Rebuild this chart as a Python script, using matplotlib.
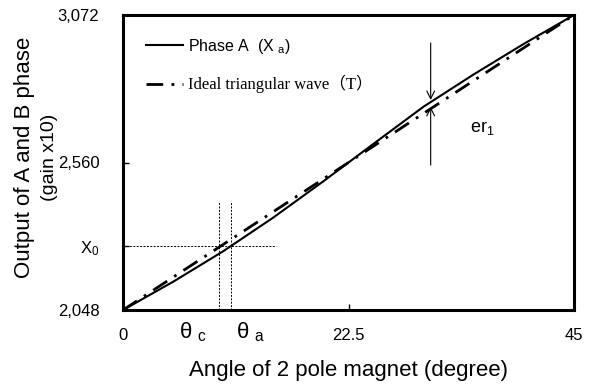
import matplotlib
matplotlib.use("Agg")
import matplotlib.pyplot as plt

plt.rcParams['font.family'] = ['Liberation Sans', 'Noto Sans CJK JP']
plt.rcParams['mathtext.default'] = 'regular'
plt.rcParams['mathtext.fontset'] = 'custom'
plt.rcParams['mathtext.rm'] = 'Liberation Sans'

# angle of 2 pole magnet (degree) and output (gain x10)
angle_deg = [0, 5, 10, 15, 20, 22.5, 25, 30, 35, 40, 45]
phase_a = [2048, 2146, 2252, 2369, 2495, 2560, 2625, 2754, 2866, 2972, 3072]
ideal_angle = [0, 45]
ideal_tri = [2048, 3072]

y_ticks = [2048, 2560, 3072]
y_tick_labels = ['2,048', '2,560', '3,072']
x_ticks = [0, 22.5, 45]
x_tick_labels = ['0', '22.5', '45']

x0_level = 2270
theta_c = 9.6
theta_a = 10.8
er1_angle = 30.7

fig = plt.figure(figsize=(5.93, 3.87), dpi=100)
ax = fig.add_axes([123 / 593, 1 - 310 / 387, 451 / 593, 295 / 387])

ax.plot(angle_deg, phase_a, color='black', linewidth=1.5, label='Phase A  (X $_{a}$)')
ax.plot(ideal_angle, ideal_tri, color='black', linewidth=2.0,
        linestyle=(0, (6, 3, 1, 3)), label='Ideal triangular wave（T）')

# crosshair for X0 / theta_c / theta_a
ax.plot([0.3, 15.3], [x0_level, x0_level], color='black', linewidth=0.7,
        linestyle=(0, (2, 1.5)))
for th in (theta_c, theta_a):
    ax.plot([th, th], [2048, 2427], color='black', linewidth=0.7,
            linestyle=(0, (2, 1.5)))

# er1 arrows
ax.annotate('', xy=(er1_angle, 2777), xytext=(er1_angle, 2975),
            arrowprops=dict(arrowstyle='->', color='black', lw=0.8,
                            shrinkA=0, shrinkB=0, mutation_scale=14))
ax.annotate('', xy=(er1_angle, 2753), xytext=(er1_angle, 2551),
            arrowprops=dict(arrowstyle='->', color='black', lw=0.8,
                            shrinkA=0, shrinkB=0, mutation_scale=14))
ax.text(34.6, 2680, 'er$_1$', fontsize=13, ha='left', va='center')

ax.set_xlim(0, 45)
ax.set_ylim(2048, 3072)
ax.set_xticks(x_ticks)
ax.set_xticklabels(x_tick_labels, fontsize=12)
ax.set_yticks(y_ticks + [x0_level])
ax.set_yticklabels(y_tick_labels + ['X$_0$'], fontsize=12)
ax.tick_params(direction='in', length=4, width=1)
ax.tick_params(axis='x', pad=13)
ax.tick_params(axis='y', pad=17)
for s in ax.spines.values():
    s.set_linewidth(2.2)

ax.text(theta_c - 2.6, 1970, 'θ $_{c}$', fontsize=16, ha='center', va='center')
ax.text(theta_a + 1.9, 1970, 'θ $_{a}$', fontsize=16, ha='center', va='center')

leg = ax.legend(loc='upper left', bbox_to_anchor=(0.02, 0.975), frameon=False,
                handlelength=2.3, handletextpad=0.3, labelspacing=1.2,
                fontsize=11.5)
leg.get_texts()[1].set_family(['Liberation Serif', 'Noto Sans CJK JP'])
leg.get_texts()[1].set_fontsize(12)

ax.set_xlabel('Angle of 2 pole magnet (degree)', fontsize=16, labelpad=12)
fig.text(25 / 593, 1 - 157 / 387, 'Output of A and B phase', rotation=90,
         fontsize=16, ha='center', va='center')
fig.text(50 / 593, 1 - 157 / 387, '(gain x10)', rotation=90,
         fontsize=14, ha='center', va='center')

fig.savefig('out.png', dpi=100, facecolor='white')
